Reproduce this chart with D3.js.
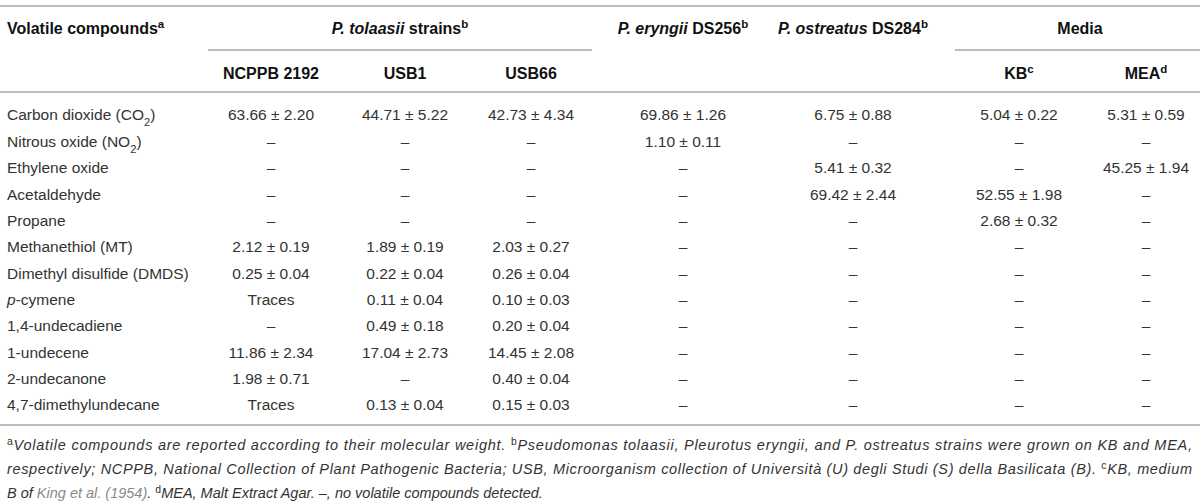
<!DOCTYPE html>
<html>
<head>
<meta charset="utf-8">
<script src="https://cdn.jsdelivr.net/npm/d3@7"></script>
<style>
  body { margin: 0; background: #fff; }
  svg { display: block; }
</style>
</head>
<body>
<svg id="tbl"></svg>
<script>
// table content
const compounds = [
  "Carbon dioxide (CO_2)", "Nitrous oxide (NO_2)", "Ethylene oxide", "Acetaldehyde",
  "Propane", "Methanethiol (MT)", "Dimethyl disulfide (DMDS)", "*p*-cymene",
  "1,4-undecadiene", "1-undecene", "2-undecanone", "4,7-dimethylundecane"
]

const ncppb2192 = [[63.66, 2.20], null, null, null, null, [2.12, 0.19], [0.25, 0.04], "Traces", null, [11.86, 2.34], [1.98, 0.71], "Traces"]
const usb1 = [[44.71, 5.22], null, null, null, null, [1.89, 0.19], [0.22, 0.04], [0.11, 0.04], [0.49, 0.18], [17.04, 2.73], null, [0.13, 0.04]]
const usb66 = [[42.73, 4.34], null, null, null, null, [2.03, 0.27], [0.26, 0.04], [0.10, 0.03], [0.20, 0.04], [14.45, 2.08], [0.40, 0.04], [0.15, 0.03]]
const eryngiiDS256 = [[69.86, 1.26], [1.10, 0.11], null, null, null, null, null, null, null, null, null, null]
const ostreatusDS284 = [[6.75, 0.88], null, [5.41, 0.32], [69.42, 2.44], null, null, null, null, null, null, null, null]
const mediaKB = [[5.04, 0.22], null, null, [52.55, 1.98], [2.68, 0.32], null, null, null, null, null, null, null]
const mediaMEA = [[5.31, 0.59], null, [45.25, 1.94], null, null, null, null, null, null, null, null, null]

const columnKeys = ["ncppb", "usb1", "usb66", "eryngii", "ostreatus", "kb", "mea"]
const columnValues = [ncppb2192, usb1, usb66, eryngiiDS256, ostreatusDS284, mediaKB, mediaMEA]

// header labels (row 1 and row 2)
const headTop = [
  {text: "Volatile compounds^a", col: null},
  {text: "*P. tolaasii* strains^b", col: "tolaasii"},
  {text: "*P. eryngii* DS256^b", col: "eryngii"},
  {text: "*P. ostreatus* DS284^b", col: "ostreatus"},
  {text: "Media", col: "media"}
]
const headSub = [
  {text: "NCPPB 2192", col: "ncppb"},
  {text: "USB1", col: "usb1"},
  {text: "USB66", col: "usb66"},
  {text: "KB^c", col: "kb"},
  {text: "MEA^d", col: "mea"}
]

const footnotes = [
  "^aVolatile compounds are reported according to their molecular weight. ^bPseudomonas tolaasii, Pleurotus eryngii, and P. ostreatus strains were grown on KB and MEA,",
  "respectively; NCPPB, National Collection of Plant Pathogenic Bacteria; USB, Microorganism collection of Università (U) degli Studi (S) della Basilicata (B). ^cKB, medium",
  "B of [King et al. (1954)]. ^dMEA, Malt Extract Agar. –, no volatile compounds detected."
]

const W = 1200, H = 502
const svg = d3.select("#tbl").attr("width", W).attr("height", H)

const bodyFont = "'Liberation Sans', Arial, Helvetica, sans-serif"
const ruleColor = "#a8a8a8"

const x = d3.scaleOrdinal()
  .domain(["label", "ncppb", "usb1", "usb66", "eryngii", "ostreatus", "kb", "mea", "tolaasii", "media"])
  .range([7, 271, 405, 531, 683, 853, 1019, 1146, 400, 1080])

const y = d3.scalePoint().domain(compounds).range([115, 405])

const fmt = d3.format(".2f")
function cell(v) {
  if (v === null) return "–"
  if (typeof v === "string") return v
  return fmt(v[0]) + " ± " + fmt(v[1])
}

// tiny markup: *italic*, ^x superscript, _x subscript, [link]
function rich(sel, str) {
  const tokens = str.split(/(\*|\^.|_.|\[|\])/).filter(s => s !== "")
  let italic = false, link = false
  tokens.forEach(t => {
    if (t === "*") { italic = !italic; return }
    if (t === "[") { link = true; return }
    if (t === "]") { link = false; return }
    const ts = sel.append("tspan")
    if (t[0] === "^" && t.length === 2) {
      ts.text(t[1]).attr("baseline-shift", "super").attr("font-size", "72%").attr("font-style", "normal")
    } else if (t[0] === "_" && t.length === 2) {
      ts.text(t[1]).attr("baseline-shift", "sub").attr("font-size", "72%")
    } else {
      ts.text(t)
      if (italic) ts.attr("font-style", "italic")
      if (link) ts.attr("fill", "#8a8a8a")
    }
  })
}

// rules
const rules = [
  {x1: 0, x2: W, y: 6},
  {x1: 208, x2: 592, y: 50},
  {x1: 955, x2: W, y: 50},
  {x1: 0, x2: W, y: 92},
  {x1: 0, x2: W, y: 425}
]
svg.selectAll("line.rule")
  .data(rules).enter()
  .append("line")
  .attr("class", "rule")
  .attr("x1", d => d.x1).attr("x2", d => d.x2)
  .attr("y1", d => d.y).attr("y2", d => d.y)
  .attr("stroke", ruleColor)
  .attr("stroke-width", 1.5)

// header
svg.selectAll("text.headTop")
  .data(headTop).enter()
  .append("text")
  .attr("class", "headTop")
  .attr("x", d => d.col ? x(d.col) : x("label"))
  .attr("y", 28)
  .attr("dy", "0.35em")
  .attr("text-anchor", d => d.col ? "middle" : "start")
  .attr("font-family", bodyFont)
  .attr("font-weight", "bold")
  .attr("font-size", 16)
  .attr("fill", "#111")
  .each(function(d) { rich(d3.select(this), d.text) })

svg.selectAll("text.headSub")
  .data(headSub).enter()
  .append("text")
  .attr("class", "headSub")
  .attr("x", d => x(d.col))
  .attr("y", 73)
  .attr("dy", "0.35em")
  .attr("text-anchor", "middle")
  .attr("font-family", bodyFont)
  .attr("font-weight", "bold")
  .attr("font-size", 16)
  .attr("fill", "#111")
  .each(function(d) { rich(d3.select(this), d.text) })

// row labels
svg.selectAll("text.label")
  .data(compounds).enter()
  .append("text")
  .attr("class", "label")
  .attr("x", x("label"))
  .attr("y", d => y(d))
  .attr("dy", "0.35em")
  .attr("font-family", bodyFont)
  .attr("font-size", 15.5)
  .attr("fill", "#333")
  .each(function(d) { rich(d3.select(this), d) })

// cells
columnKeys.forEach((key, ci) => {
  svg.selectAll("text.c-" + key)
    .data(columnValues[ci]).enter()
    .append("text")
    .attr("class", "c-" + key)
    .attr("x", x(key))
    .attr("y", (d, i) => y(compounds[i]))
    .attr("dy", "0.35em")
    .attr("text-anchor", "middle")
    .attr("font-family", bodyFont)
    .attr("font-size", 15.5)
    .attr("fill", "#333")
    .text(d => cell(d))
})

// footnotes
svg.selectAll("text.foot")
  .data(footnotes).enter()
  .append("text")
  .attr("class", "foot")
  .attr("x", 7)
  .attr("y", (d, i) => 445 + i * 24)
  .attr("dy", "0.35em")
  .attr("font-family", bodyFont)
  .attr("font-style", "italic")
  .attr("font-size", 14.5)
  .attr("fill", "#333")
  .each(function(d, i) {
    rich(d3.select(this), d)
    if (i < 2) d3.select(this).attr("textLength", 1185).attr("lengthAdjust", "spacing")
  })
</script>
</body>
</html>
